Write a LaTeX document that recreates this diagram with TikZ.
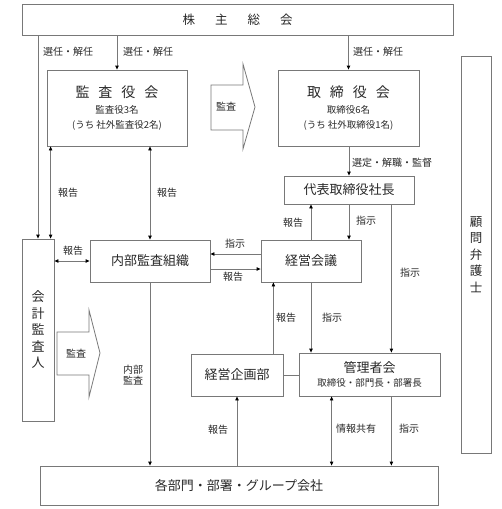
\documentclass[tikz,border=0pt]{standalone}
\usepackage{fontspec}
\setmainfont{Noto Sans CJK JP}
\usetikzlibrary{arrows.meta}
\definecolor{senhai}{RGB}{120,120,120}
\definecolor{sumi}{RGB}{40,40,40}

\begin{document}
\begin{tikzpicture}[x=1pt,y=-1pt,
		>={Triangle[length=4pt,width=3.4pt,color=black]},
		waku/.style={draw=senhai,line width=0.8pt,inner sep=0pt,align=center,text=sumi,font=\fontsize{13}{15}\selectfont},
		sen/.style={draw=senhai,line width=0.8pt},
		moji/.style={inner sep=0pt,text=sumi,align=center,font=\fontsize{10}{12}\selectfont}]
		\useasboundingbox (0,0) rectangle (502,509);
		% boxes
		\node[waku,minimum width=431,minimum height=31,font=\fontsize{12.5}{14}\selectfont] (kabunushi) at (237.5,19.5) {株\hspace{20pt}主\hspace{20pt}総\hspace{20pt}会};
		\node[waku,minimum width=140,minimum height=76] (kansayaku) at (117,108) {{\fontsize{14}{14}\selectfont 監\hspace{9pt}査\hspace{9pt}役\hspace{9pt}会}\\[1pt]{\fontsize{9.5}{10.5}\selectfont 監査役3名}\\{\fontsize{9.5}{10.5}\selectfont (うち 社外監査役2名)}};
		\node[waku,minimum width=141,minimum height=76] (torishimari) at (348.5,108) {{\fontsize{14}{14}\selectfont 取\hspace{9pt}締\hspace{9pt}役\hspace{9pt}会}\\[1pt]{\fontsize{9.5}{10.5}\selectfont 取締役6名}\\{\fontsize{9.5}{10.5}\selectfont (うち 社外取締役1名)}};
		\node[waku,minimum width=130,minimum height=28] (daihyo) at (349,190) {代表取締役社長};
		\node[waku,minimum width=30,minimum height=397,font=\fontsize{12.5}{16.5}\selectfont] (komon) at (476,254.5) {顧\\問\\弁\\護\\士};
		\node[waku,minimum width=32,minimum height=182,font=\fontsize{13}{16.5}\selectfont] (kaikei) at (38,330) {会\\計\\監\\査\\人};
		\node[waku,minimum width=120,minimum height=42] (naibu) at (150,261) {内部監査組織};
		\node[waku,minimum width=100,minimum height=42] (keiei) at (311,261) {経営会議};
		\node[waku,minimum width=92,minimum height=42] (kikaku) at (237,375) {経営企画部};
		\node[waku,minimum width=141,minimum height=43] (kanri) at (369.5,374.5) {管理者会\\[-1pt]{\fontsize{9.5}{10.5}\selectfont 取締役・部門長・部署長}};
		\node[waku,minimum width=398,minimum height=39] (kakubu) at (239,485.5) {各部門・部署・グループ会社};
		% block arrows
		\draw[sen] (211,85) -- (243,85) -- (243,64) -- (255,107) -- (243,149) -- (243,130) -- (211,130) -- cycle;
		\draw[sen] (57,332) -- (89,332) -- (89,310) -- (100,353) -- (89,397) -- (89,375) -- (57,375) -- cycle;
		\node[moji] (kansa1) at (226,107) {監査};
		\node[moji] (kansa2) at (76,354) {監査};
		% helper points
		\coordinate (hidari) at ([xshift=4pt]kansayaku.south west);
		\coordinate (migi) at ([xshift=-23pt]daihyo.south east);
		\coordinate (kikakuue) at ([xshift=-10pt]kikaku.north east);
		\coordinate (kyoyu) at ([xshift=33pt]kanri.south west);
		% connectors
		\draw[sen,->] (kabunushi.south -| kaikei.north) -- (kaikei.north);
		\draw[sen,<->] (hidari) -- (hidari |- kaikei.north);
		\draw[sen,->] (kabunushi.south -| kansayaku.north) -- (kansayaku.north);
		\draw[sen,->] (kabunushi.south -| torishimari.north) -- (torishimari.north);
		\draw[sen,<->] (kansayaku.south -| naibu.north) -- (naibu.north);
		\draw[sen,->] (torishimari.south -| daihyo.north) -- (daihyo.north);
		\draw[sen,->] (daihyo.south) -- (daihyo.south |- keiei.north);
		\draw[sen,<-] (daihyo.south -| keiei.north) -- (keiei.north);
		\draw[sen,->] (migi) -- (migi |- kanri.north);
		\draw[sen,<->] (kaikei.east |- naibu.west) -- (naibu.west);
		\draw[sen,->] ([yshift=7pt]keiei.west) -- ([yshift=7pt]naibu.east);
		\draw[sen,->] ([yshift=-8pt]naibu.east) -- ([yshift=-8pt]keiei.west);
		\draw[sen,->] (naibu.south) -- (naibu.south |- kakubu.north);
		\draw[sen,->] (kikakuue) -- (kikakuue |- keiei.south);
		\draw[sen,->] (keiei.south) -- (keiei.south |- kanri.north);
		\draw[sen] (kikaku.east) -- (kikaku.east -| kanri.west);
		\draw[sen,->] (kakubu.north -| kikaku.south) -- (kikaku.south);
		\draw[sen,<->] (kyoyu) -- (kyoyu |- kakubu.north);
		\draw[sen,->] (migi |- kanri.south) -- (migi |- kakubu.north);
		% labels
		\node[moji] (senin1) at (68,52) {選任・解任};
		\node[moji] (senin2) at (148,52) {選任・解任};
		\node[moji] (senin3) at (378,52) {選任・解任};
		\node[moji] (sentei) at (392,163) {選定・解職・監督};
		\node[moji] (hokoku1) at (68,193) {報告};
		\node[moji] (hokoku2) at (167,193) {報告};
		\node[moji] (hokoku3) at (293,223) {報告};
		\node[moji] (shiji1) at (366,221) {指示};
		\node[moji] (hokoku4) at (73,251) {報告};
		\node[moji] (shiji2) at (235,244) {指示};
		\node[moji] (hokoku5) at (233,277) {報告};
		\node[moji] (shiji3) at (410,273) {指示};
		\node[moji] (hokoku6) at (286,318) {報告};
		\node[moji] (shiji4) at (332,318) {指示};
		\node[moji,font=\fontsize{10}{11.5}\selectfont] (naibukansa) at (133,375) {内部\\監査};
		\node[moji] (hokoku7) at (218,430) {報告};
		\node[moji] (kyoyulbl) at (356,429) {情報共有};
		\node[moji] (shiji5) at (409,429) {指示};
	\end{tikzpicture}
\end{document}
